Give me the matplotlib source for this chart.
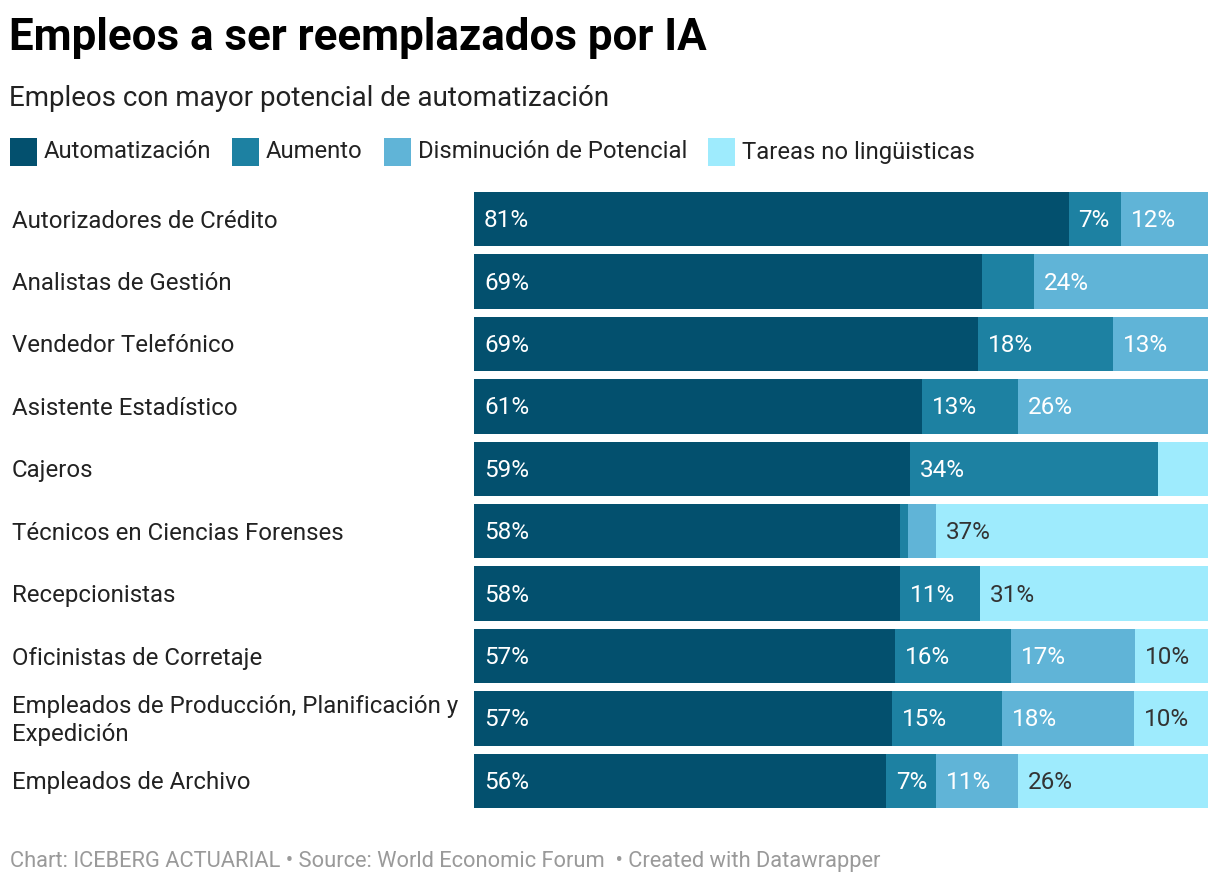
import matplotlib
matplotlib.use("Agg")
import matplotlib.pyplot as plt
from matplotlib.patches import Rectangle

W, H = 1220, 884
DPI = 100

categories = [
    "Autorizadores de Crédito",
    "Analistas de Gestión",
    "Vendedor Telefónico",
    "Asistente Estadístico",
    "Cajeros",
    "Técnicos en Ciencias Forenses",
    "Recepcionistas",
    "Oficinistas de Corretaje",
    "Empleados de Producción, Planificación y\nExpedición",
    "Empleados de Archivo",
]
series_names = ["Automatización", "Aumento", "Disminución de Potencial", "Tareas no lingüisticas"]
automatizacion = [81, 69.2, 68.7, 61, 59.4, 58, 58, 57.4, 56.9, 56.1]
aumento = [7.1, 7.1, 18.3, 13.1, 33.8, 1.1, 10.9, 15.8, 15, 6.8]
disminucion = [11.9, 23.7, 13, 25.9, 0, 3.8, 0, 16.9, 18, 11.2]
tareas = [0, 0, 0, 0, 6.8, 37.1, 31.1, 9.9, 10.1, 25.9]
show_label = [
    [True, True, True, True, True, True, True, True, True, True],
    [True, False, True, True, True, False, True, True, True, True],
    [True, True, True, True, False, False, False, True, True, True],
    [False, False, False, False, False, True, True, True, True, True],
]
colors = ["#03506e", "#1d81a2", "#60b4d7", "#9eebfd"]
text_colors = ["white", "white", "white", "#333333"]

plt.rcParams['font.family'] = ['Roboto', 'DejaVu Sans']

fig = plt.figure(figsize=(W / DPI, H / DPI), dpi=DPI)
fig.patch.set_facecolor("white")

def fx(px):
    return px / W

def fy(py):
    return 1 - py / H

# Title / subtitle
fig.text(fx(9), fy(38), "Empleos a ser reemplazados por IA", fontsize=31.6, fontweight="bold",
         color="#000000", va="center", ha="left")
fig.text(fx(9), fy(98), "Empleos con mayor potencial de automatización", fontsize=20,
         color="#222222", va="center", ha="left")

# Legend
leg_x = [10, 232, 384, 708]
for i, name in enumerate(series_names):
    fig.patches.append(Rectangle((fx(leg_x[i]), fy(166)), 27 / W, 28 / H,
                                 transform=fig.transFigure, facecolor=colors[i],
                                 edgecolor="none"))
    fig.text(fx(leg_x[i] + 34), fy(152), name, fontsize=17.2, color="#222222",
             va="center", ha="left")

# Axes for bars
top, bottom = 192, 808
left, right = 474, 1208
ax = fig.add_axes([fx(left), fy(bottom), (right - left) / W, (bottom - top) / H])
n = len(categories)
bar_h = 54 / 62
ax.set_xlim(0, 100)
ax.set_ylim(n - 1 + bar_h / 2, -bar_h / 2)
ax.axis("off")

series = [automatizacion, aumento, disminucion, tareas]
ypos = list(range(n))
lefts = [0.0] * n
for s, vals in enumerate(series):
    ax.barh(ypos, vals, left=lefts, height=bar_h, color=colors[s], edgecolor="none")
    for i in range(n):
        if vals[i] > 0 and show_label[s][i]:
            ax.annotate(f"{round(vals[i])}%", xy=(lefts[i], ypos[i]), xytext=(10, -1.5),
                        textcoords="offset pixels",
                        va="center", ha="left", fontsize=17.5, color=text_colors[s])
    lefts = [lefts[i] + vals[i] for i in range(n)]

# Category labels
for i, cat in enumerate(categories):
    ax.annotate(cat, xy=(0, ypos[i]), xycoords=("axes fraction", "data"),
                xytext=(12 - left, -2), textcoords="offset pixels",
                va="center", ha="left", fontsize=17.25, color="#222222",
                linespacing=1.25)

# Footer
fig.text(fx(10), fy(861), "Chart: ICEBERG ACTUARIAL • Source: World Economic Forum  • Created with Datawrapper",
         fontsize=15.75, color="#9a9a9a", va="center", ha="left")

fig.savefig("out.png", dpi=DPI)
